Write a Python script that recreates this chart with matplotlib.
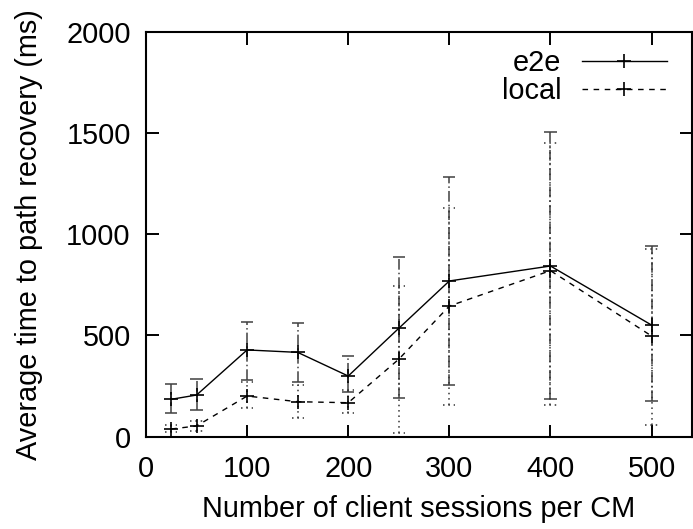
import numpy as np
import matplotlib
matplotlib.use("Agg")
import matplotlib.pyplot as plt

plt.rcParams['font.family'] = ['Liberation Sans', 'DejaVu Sans']

# client sessions per CM
sessions = [25, 50, 100, 150, 200, 250, 300, 400, 500]

# end-to-end recovery: mean, low and high of error bar (ms)
e2e_mean = [184, 205, 428, 416, 299, 535, 769, 843, 551]
e2e_low = [115, 131, 279, 271, 221, 189, 255, 187, 175]
e2e_high = [258, 283, 567, 560, 398, 886, 1284, 1507, 942]

# local recovery
local_mean = [37, 52, 200, 172, 167, 382, 645, 820, 497]
local_low = [20, 25, 139, 90, 118, 19, 156, 154, 57]
local_high = [55, 75, 271, 255, 230, 744, 1131, 1449, 927]

FS = 20.8

fig = plt.figure(figsize=(6.93, 5.29), dpi=100)
ax = fig.add_axes([146 / 693, 92.5 / 529, (692 - 146) / 693, (436.5 - 32) / 529])


def draw_bars(x, lo, hi, ls, cap_ls, color):
    x = np.asarray(x, dtype=float)
    ax.vlines(x, lo, hi, colors=color, linestyles=ls, lw=1.1)
    half = 6.0
    ax.hlines(lo, x - half, x + half, colors=color, linestyles=cap_ls, lw=1.1)
    ax.hlines(hi, x - half, x + half, colors=color, linestyles=cap_ls, lw=1.1)


draw_bars(sessions, e2e_low, e2e_high, (0, (7, 2, 1, 2)), '-', '0.25')
draw_bars(sessions, local_low, local_high, (0, (1, 2.5)), (0, (1, 2.5)), '0.2')

ax.plot(sessions, e2e_mean, color='black', lw=1.0, marker='+', ms=10,
        mew=1.2, label='e2e')
ax.plot(sessions, local_mean, color='black', lw=1.0, ls=(0, (4, 4)),
        marker='+', ms=10, mew=1.2, label='local')

ax.set_xlim(0, 540)
ax.set_ylim(0, 2000)
ax.set_xticks([0, 100, 200, 300, 400, 500])
ax.set_yticks([0, 500, 1000, 1500, 2000])
ax.tick_params(direction='in', length=9, width=1.4, labelsize=FS,
               top=True, right=True, pad=11)
ax.tick_params(axis='x', pad=13)
for s in ax.spines.values():
    s.set_linewidth(1.5)

ax.set_xlabel('Number of client sessions per CM', fontsize=FS, labelpad=9)
ax.set_ylabel('Average time to path recovery (ms)', fontsize=FS, labelpad=17)

ax.legend(loc='upper right', bbox_to_anchor=(0.954, 0.958), frameon=False,
          markerfirst=False, fontsize=FS, handlelength=2.95,
          handletextpad=0.7, labelspacing=0.0, borderpad=0.0,
          borderaxespad=0.0)

fig.savefig('out.png', dpi=100)
